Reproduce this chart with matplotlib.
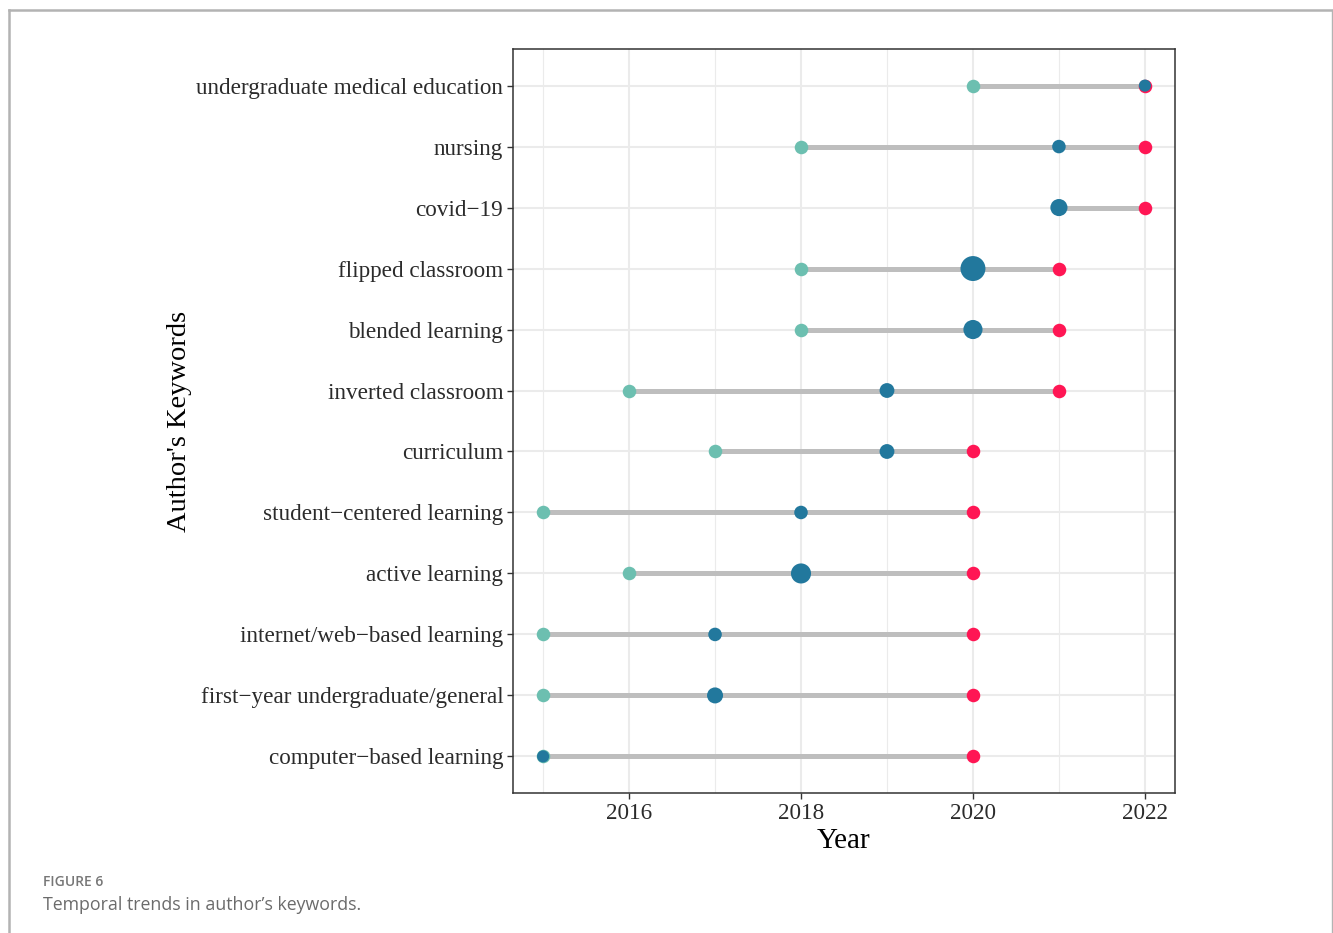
import numpy as np
import matplotlib
matplotlib.use("Agg")
import matplotlib.pyplot as plt
from matplotlib.lines import Line2D

# keywords listed top to bottom
keywords = ["undergraduate medical education", "nursing", "covid\u221219",
            "flipped classroom", "blended learning", "inverted classroom",
            "curriculum", "student\u2212centered learning", "active learning",
            "internet/web\u2212based learning", "first\u2212year undergraduate/general",
            "computer\u2212based learning"]
year_q1 = [2020, 2018, 2021, 2018, 2018, 2016, 2017, 2015, 2016, 2015, 2015, 2015]
year_med = [2022, 2021, 2021, 2020, 2020, 2019, 2019, 2018, 2018, 2017, 2017, 2015]
year_q3 = [2022, 2022, 2022, 2021, 2021, 2021, 2020, 2020, 2020, 2020, 2020, 2020]
freq = [4, 5, 8, 17, 10, 6, 6, 5, 11, 5, 7, 4]
xticks = [2016, 2018, 2020, 2022]

W, H = 1333, 933
fig = plt.figure(figsize=(W / 100, H / 100), dpi=100)

# outer light frame
fig.add_artist(Line2D([8.5 / W, 1332 / W], [1 - 10 / H, 1 - 10 / H], transform=fig.transFigure, color="#b3b3b3", lw=1.8))
fig.add_artist(Line2D([8.5 / W, 8.5 / W], [0, 1 - 10 / H], transform=fig.transFigure, color="#b3b3b3", lw=1.8))
fig.add_artist(Line2D([1332 / W, 1332 / W], [0, 1 - 10 / H], transform=fig.transFigure, color="#b3b3b3", lw=1.0))

ax = fig.add_axes([513 / W, (H - 793) / H, (1175 - 513) / W, (793 - 49) / H])

n = len(keywords)
ypos = np.arange(n)[::-1]

ax.set_xlim(2014.65, 2022.35)
ax.set_ylim(-0.6, n - 1 + 0.6)

# grid
for x in [2015, 2017, 2019, 2021]:
    ax.axvline(x, color="#ebebeb", lw=0.8, zorder=0)
for x in xticks:
    ax.axvline(x, color="#ebebeb", lw=1.5, zorder=0)
for y in ypos:
    ax.axhline(y, color="#ebebeb", lw=1.5, zorder=0)

ax.hlines(ypos, year_q1, year_q3, color="#bebebe", lw=3.6, zorder=1)
ax.scatter(year_q1, ypos, s=95, color="#6cbfb0", linewidths=0, zorder=2)
ax.scatter(year_q3, ypos, s=95, color="#ff1654", linewidths=0, zorder=3)
ax.scatter(year_med, ypos, s=np.array(freq) * 19, color="#22789d", linewidths=0, zorder=4)

ax.set_xticks(xticks)
ax.set_xticklabels([str(x) for x in xticks])
ax.set_yticks(ypos)
ax.set_yticklabels(keywords)

serif = "Liberation Serif"
for lab in ax.get_xticklabels() + ax.get_yticklabels():
    lab.set_fontfamily(serif)
    lab.set_fontsize(16.7)
    lab.set_color("#2b2b2b")
ax.tick_params(length=4, width=1, color="#333333", pad=3)

ax.set_xlabel("Year", fontfamily=serif, fontsize=21, color="black", labelpad=3)
ax.set_ylabel("Author's Keywords", fontfamily=serif, fontsize=20.5, color="black", labelpad=3)

for sp in ax.spines.values():
    sp.set_color("#333333")
    sp.set_linewidth(1.1)

fig.text(43 / W, 1 - 882 / H, "FIGURE 6", fontfamily="Open Sans", fontsize=10,
         color="#777777", fontweight="semibold", va="center", ha="left")
fig.text(43 / W, 1 - 905 / H, "Temporal trends in author\u2019s keywords.", fontfamily="Open Sans",
         fontsize=12.8, color="#6b6b6b", va="center", ha="left")

fig.savefig("out.png", dpi=100)
